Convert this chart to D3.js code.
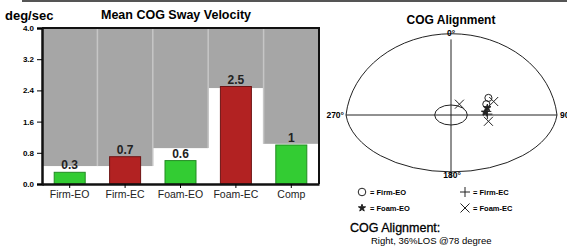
<!DOCTYPE html>
<html>
<head>
<meta charset="utf-8">
<script src="https://cdn.jsdelivr.net/npm/d3@7/dist/d3.min.js"></script>
<style>
  body { margin: 0; background: #fff; }
  svg { display: block; font-family: "Liberation Sans", Arial, sans-serif; }
</style>
</head>
<body>
<div id="chart"></div>
<script>
// bar chart data
var categories = ["Firm-EO", "Firm-EC", "Foam-EO", "Foam-EC", "Comp"];
var swayValues = [0.3, 0.7, 0.6, 2.5, 1];
var normValues = [0.46, 0.46, 0.92, 2.46, 1.03];   // top of the white (normal) zone
var barColors = ["green", "red", "green", "red", "green"];
var yTicks = [0.0, 0.8, 1.6, 2.4, 3.2, 4.0];

// COG alignment trials, in %LOS (x right, y up)
var firmEO = [[33, 12], [35, 19]];
var firmEC = [[34, 1], [33, 4]];
var foamEO = [[32, 3], [34, 8]];
var foamEC = [[7.5, 12], [40, 15], [35, -10]];
var alignText = "Right, 36%LOS @78 degree";

var svg = d3.select("#chart").append("svg")
  .attr("width", 567)
  .attr("height", 246);

// thin frame line across the top
svg.append("line")
  .attr("x1", 22).attr("x2", 567).attr("y1", 1).attr("y2", 1)
  .attr("stroke", "#555").attr("stroke-width", 2);

// ---------- Mean COG Sway Velocity ----------
var plot = { left: 42, right: 319, top: 28, bottom: 184 };

var x = d3.scaleBand()
  .domain(categories)
  .range([plot.left, plot.right]);

var y = d3.scaleLinear()
  .domain([0, 4])
  .range([plot.bottom, plot.top]);

var fills = { green: "#33cc33", red: "#b22222" };
var strokes = { green: "#228b22", red: "#6e1414" };

svg.append("text")
  .attr("x", 5).attr("y", 20)
  .style("font-size", "13px").style("font-weight", "bold")
  .text("deg/sec");

svg.append("text")
  .attr("x", 176).attr("y", 19)
  .attr("text-anchor", "middle")
  .style("font-size", "12.5px").style("font-weight", "bold")
  .text("Mean COG Sway Velocity");

// gray zones above the normal values
svg.selectAll("rect.zone")
  .data(categories)
  .enter().append("rect")
  .classed("zone", true)
  .attr("x", function(d) { return x(d); })
  .attr("width", x.bandwidth())
  .attr("y", plot.top)
  .attr("height", function(d, i) { return y(normValues[i]) - plot.top; })
  .attr("fill", "#a6a6a6");

// light separators between the zones
svg.selectAll("line.sep")
  .data(categories.slice(1))
  .enter().append("line")
  .classed("sep", true)
  .attr("x1", function(d) { return x(d); })
  .attr("x2", function(d) { return x(d); })
  .attr("y1", plot.top)
  .attr("y2", function(d, i) { return y(Math.min(normValues[i], normValues[i + 1])); })
  .attr("stroke", "#c6c6c6").attr("stroke-width", 1.5);

var barWidth = 31;

svg.selectAll("rect.bar")
  .data(swayValues)
  .enter().append("rect")
  .classed("bar", true)
  .attr("x", function(d, i) { return x(categories[i]) + (x.bandwidth() - barWidth) / 2; })
  .attr("width", barWidth)
  .attr("y", function(d) { return y(d); })
  .attr("height", function(d) { return plot.bottom - y(d); })
  .attr("fill", function(d, i) { return fills[barColors[i]]; })
  .attr("stroke", function(d, i) { return strokes[barColors[i]]; })
  .attr("stroke-width", 1);

svg.selectAll("text.value")
  .data(swayValues)
  .enter().append("text")
  .classed("value", true)
  .attr("x", function(d, i) { return x(categories[i]) + x.bandwidth() / 2; })
  .attr("y", function(d) { return y(d) - 3; })
  .attr("text-anchor", "middle")
  .style("font-size", "12px").style("font-weight", "bold").style("fill", "#222")
  .text(function(d) { return d; });

// frame: top and right
svg.append("path")
  .attr("d", "M" + plot.left + "," + plot.top + "H" + plot.right + "V" + plot.bottom)
  .attr("fill", "none").attr("stroke", "#111").attr("stroke-width", 2);

var yAxis = svg.append("g")
  .attr("transform", "translate(" + plot.left + ",0)")
  .call(d3.axisLeft(y).tickValues(yTicks).tickFormat(d3.format(".1f")).tickSize(5).tickPadding(3));
yAxis.select(".domain").attr("stroke-width", 2.5).attr("stroke", "#111");
yAxis.selectAll("text").style("font-size", "8px").style("font-weight", "bold");

var xAxis = svg.append("g")
  .attr("transform", "translate(0," + plot.bottom + ")")
  .call(d3.axisBottom(x).tickSize(4).tickPadding(3).tickSizeOuter(0));
xAxis.select(".domain").attr("stroke-width", 2.5).attr("stroke", "#111");
xAxis.selectAll("text").style("font-size", "10.5px").style("fill", "#222");

// ---------- COG Alignment ----------
var cx = 451, cy = 115;
var px = d3.scaleLinear().domain([-100, 100]).range([346, 557]);
var py = d3.scaleLinear().domain([-100, 0, 100]).range([178, cy, 25]);

var rx = px(100) - cx;
var ryTop = cy - py(100);
var ryBottom = py(-100) - cy;

var g = svg.append("g").attr("stroke", "#222").attr("fill", "none").attr("stroke-width", 1);

g.append("path")
  .attr("d", "M" + px(-100) + "," + cy +
    " A" + rx + "," + ryTop + " 0 0 1 " + px(100) + "," + cy +
    " A" + rx + "," + ryBottom + " 0 0 1 " + px(-100) + "," + cy);

g.append("line").attr("x1", px(-100)).attr("x2", px(100)).attr("y1", cy).attr("y2", cy);
g.append("line").attr("x1", cx).attr("x2", cx).attr("y1", py(84)).attr("y2", py(-100));

g.append("ellipse")
  .attr("cx", cx).attr("cy", cy)
  .attr("rx", px(15) - cx).attr("ry", 10);

svg.append("text")
  .attr("x", cx).attr("y", 24)
  .attr("text-anchor", "middle")
  .style("font-size", "12px").style("font-weight", "bold")
  .text("COG Alignment");

var degLabels = [
  { t: "0°", x: cx, y: 36, a: "middle" },
  { t: "270°", x: px(-100) - 2, y: cy + 3, a: "end" },
  { t: "90°", x: px(100) + 3, y: cy + 3, a: "start" },
  { t: "180°", x: cx + 1, y: 178, a: "middle" }
];
svg.selectAll("text.deg")
  .data(degLabels)
  .enter().append("text")
  .classed("deg", true)
  .attr("x", function(d) { return d.x; })
  .attr("y", function(d) { return d.y; })
  .attr("text-anchor", function(d) { return d.a; })
  .style("font-size", "8.5px").style("font-weight", "bold")
  .text(function(d) { return d.t; });

var markers = {
  circle: d3.symbol().type(d3.symbolCircle).size(40),
  plus: "M-5,0H5M0,-5V5",
  star: d3.symbol().type(d3.symbolStar).size(16),
  cross: "M-4.5,-4.5L4.5,4.5M-4.5,4.5L4.5,-4.5"
};

function drawMarks(data, kind) {
  var sel = svg.selectAll(null).data(data).enter().append("path")
    .attr("transform", function(d) { return "translate(" + px(d[0]) + "," + py(d[1]) + ")"; })
    .attr("stroke", "#222").attr("stroke-width", 1);
  if (kind === "circle") sel.attr("d", markers.circle).attr("fill", "none");
  else if (kind === "star") sel.attr("d", markers.star).attr("fill", "#222");
  else sel.attr("d", markers[kind]).attr("fill", "none");
}

drawMarks(firmEO, "circle");
drawMarks(firmEC, "plus");
drawMarks(foamEO, "star");
drawMarks(foamEC, "cross");

// legend
var legend = [
  { kind: "circle", label: "= Firm-EO", x: 362, y: 192 },
  { kind: "plus", label: "= Firm-EC", x: 465, y: 192 },
  { kind: "star", label: "= Foam-EO", x: 362, y: 208 },
  { kind: "cross", label: "= Foam-EC", x: 465, y: 208 }
];
legend.forEach(function(l) {
  var m = svg.append("path")
    .attr("transform", "translate(" + l.x + "," + l.y + ")")
    .attr("stroke", "#222").attr("stroke-width", 1)
    .attr("fill", l.kind === "star" ? "#222" : "none");
  if (l.kind === "circle") m.attr("d", d3.symbol().type(d3.symbolCircle).size(45));
  else if (l.kind === "star") m.attr("d", markers.star);
  else m.attr("d", markers[l.kind]);
  svg.append("text")
    .attr("x", l.x + 8).attr("y", l.y + 2.5)
    .style("font-size", "7.5px").style("font-weight", "bold")
    .text(l.label);
});

svg.append("text")
  .attr("x", 350).attr("y", 232)
  .style("font-size", "12.5px")
  .style("stroke", "#000").style("stroke-width", 0.3)
  .text("COG Alignment:");

svg.append("text")
  .attr("x", 371).attr("y", 244)
  .style("font-size", "9.5px")
  .text(alignText);
</script>
</body>
</html>
